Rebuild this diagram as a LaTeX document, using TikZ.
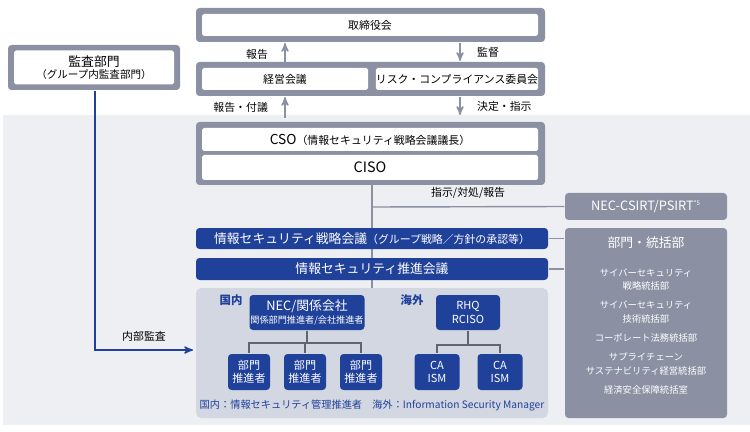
\documentclass[tikz,border=0pt]{standalone}
\usepackage{fontspec}
\setmainfont{Noto Sans CJK JP}
\usetikzlibrary{arrows,positioning,calc}
\definecolor{necblue}{HTML}{20419A}
\definecolor{frame}{HTML}{8B90A3}
\definecolor{pale}{HTML}{EDEFF3}
\definecolor{area}{HTML}{D3D7E1}
\begin{document}
\begin{tikzpicture}
  [
  x=0.02cm, y=-0.02cm, line width=0.8pt, >=stealth',
  font=\fontsize{6.2}{7}\selectfont,
  frame/.style={rectangle, draw=none, fill=frame, rounded corners=2pt, inner sep=0pt},
  white/.style={rectangle, fill=white, rounded corners=1pt, inner sep=0pt, align=center},
  bar/.style={rectangle, fill=necblue, text=white, rounded corners=2pt, inner sep=0pt, font=\fontsize{7.3}{8}\selectfont},
  unit/.style={rectangle, fill=necblue, text=white, rounded corners=2pt, inner sep=0pt, align=center, font=\fontsize{6.3}{7.5}\selectfont},
  side/.style={rectangle, fill=frame, text=white, rounded corners=2pt, inner sep=0pt, align=center},
  link/.style={draw=frame, line width=0.8pt},
  tree/.style={draw=frame!70!black, line width=0.8pt}
  ]
\useasboundingbox (0,0) rectangle (750,432);
% background
\fill[pale] (3,115) rectangle (750,425);

% spine
\coordinate (top) at (372,185);
\coordinate (dom) at (372,288);
\draw[link] (top) -- (dom);

\fill[area, rounded corners=3pt] (196,288) rectangle (548,418);

% audit
\node[frame, minimum width=172*0.02cm, minimum height=45*0.02cm] (auditf) at (94,67.5) {};
\node[white, minimum width=160*0.02cm, minimum height=34*0.02cm] (audit) at (94,67.5)
  {\fontsize{7.3}{9}\selectfont 監査部門\\ \fontsize{6}{8}\selectfont（グループ内監査部門）};

% board
\node[frame, minimum width=349*0.02cm, minimum height=34*0.02cm] (boardf) at (370.5,25) {};
\node[white, minimum width=336*0.02cm, minimum height=22*0.02cm] (board) at (370,25) {取締役会};
\node[frame, minimum width=349*0.02cm, minimum height=34*0.02cm] (mgmtf) at (370.5,79) {};
\node[white, minimum width=166*0.02cm, minimum height=22*0.02cm] (mgmt) at (285,79) {経営会議};
\node[white, minimum width=162*0.02cm, minimum height=22*0.02cm] (risk) at (457,79) {リスク・コンプライアンス委員会};

% cso
\node[frame, minimum width=349*0.02cm, minimum height=63*0.02cm] (csof) at (370.5,153.5) {};
\node[white, minimum width=336*0.02cm, minimum height=23*0.02cm] (cso) at (370,139.5)
  {\fontsize{7.8}{9}\selectfont CSO\fontsize{6.2}{7}\selectfont（情報セキュリティ戦略会議議長）};
\node[white, minimum width=336*0.02cm, minimum height=25*0.02cm] (ciso) at (370,167.5)
  {\fontsize{8.2}{9}\selectfont CISO};
\draw[link] (cso.south) -- (ciso.north);

% arrows between layers
\coordinate (u1) at (285,65); \coordinate (u1e) at (285,43);
\draw[->, link] (u1) -- (u1e) node[midway, left=6pt, text=black] {報告};
\coordinate (d1) at (460,43); \coordinate (d1e) at (460,61);
\draw[->, link] (d1) -- (d1e) node[midway, right=6pt, text=black] {監督};
\coordinate (u2) at (285,118); \coordinate (u2e) at (285,97);
\draw[->, link] (u2) -- (u2e) node[midway, left=6pt, text=black] {報告・付議};
\coordinate (d2) at (460,97); \coordinate (d2e) at (460,115);
\draw[->, link] (d2) -- (d2e) node[midway, right=6pt, text=black] {決定・指示};

% councils
\node[bar, minimum width=352*0.02cm, minimum height=21*0.02cm] (strat) at (372,238.5)
  {情報セキュリティ戦略会議\fontsize{6.2}{7}\selectfont（グループ戦略／方針の承認等）};
\node[bar, minimum width=352*0.02cm, minimum height=22*0.02cm] (promo) at (372,269) {情報セキュリティ推進会議};

% right side
\node[side, minimum width=162*0.02cm, minimum height=27*0.02cm, font=\fontsize{7.3}{8}\selectfont] (csirt) at (646,206.5)
  {NEC-CSIRT/PSIRT\textsuperscript{\fontsize{3.5}{4}\selectfont *5}};
\node[side, minimum width=162*0.02cm, minimum height=190*0.02cm] (div) at (646,323) {};
\node[text=white, font=\fontsize{7.3}{8}\selectfont] (divt) at (646,243) {部門・統括部};
\node[text=white, align=center, font=\fontsize{5.3}{7.8}\selectfont, anchor=north] (divl) at (646,262)
  {サイバーセキュリティ\\戦略統括部\\[3pt]サイバーセキュリティ\\技術統括部\\[3pt]コーポレート法務統括部\\[3pt]サプライチェーン\\サステナビリティ経営統括部\\[3pt]経済安全保障統括室};

\draw[link] (372,207) -- (csirt.west) node[midway, above=1pt, text=black] {指示/対処/報告};
\draw[link] (strat.east) -- (strat.east -| div.west);
\draw[link] (promo.east) -- (promo.east -| div.west);

% domestic / overseas
\node[text=necblue, font=\fontsize{6.5}{7}\selectfont\bfseries] (jp) at (231,300) {国内};
\node[text=necblue, font=\fontsize{6.5}{7}\selectfont\bfseries] (ov) at (412,300) {海外};
\node[unit, minimum width=115*0.02cm, minimum height=35*0.02cm] (nec) at (307,312.5)
  {\fontsize{7.3}{8.5}\selectfont NEC/関係会社\\ \fontsize{5.2}{6.5}\selectfont 関係部門推進者/会社推進者};
\node[unit, minimum width=64*0.02cm, minimum height=35*0.02cm] (rhq) at (468,312.5) {RHQ\\RCISO};
\foreach \i/\x in {1/249,2/305,3/361} {
  \node[unit, minimum width=42*0.02cm, minimum height=36*0.02cm] (bu\i) at (\x,372) {部門\\推進者};
  \draw[tree] (nec.south) |- (\x,343) -- (bu\i.north);
}
\foreach \i/\x in {1/437,2/500} {
  \node[unit, minimum width=45*0.02cm, minimum height=36*0.02cm] (ca\i) at (\x,372) {CA\\ISM};
  \draw[tree] (rhq.south) |- (\x,345) -- (ca\i.north);
}
\node[text=necblue, font=\fontsize{5.8}{7}\selectfont] (note) at (372,405)
  {国内：情報セキュリティ管理推進者\quad 海外：Information Security Manager};

% internal audit
\coordinate (aud) at (95,350);
\draw[->, draw=necblue] (auditf.south -| aud) -- (aud) -- (193,350)
  node[midway, above=1pt, text=black] {内部監査};
\end{tikzpicture}
\end{document}
